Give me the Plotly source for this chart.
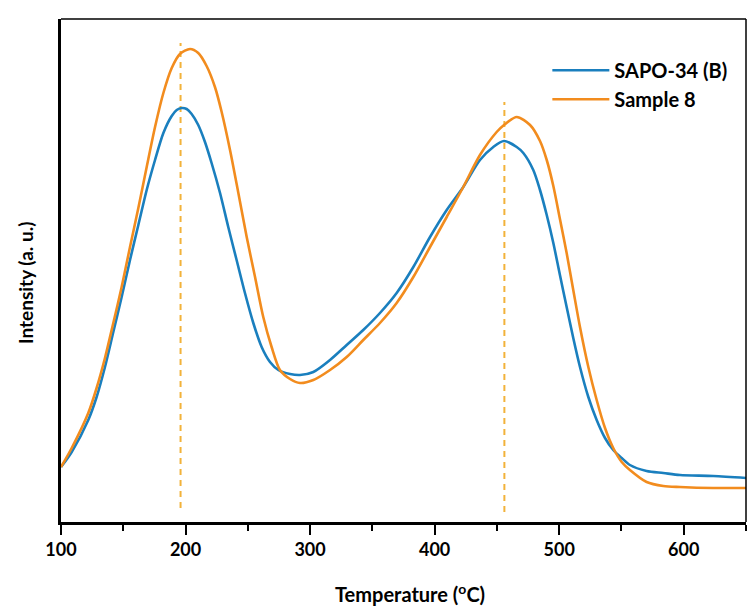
import plotly.graph_objects as go

# Temperature (°C) and intensity (a.u.)
temp_sapo = [100, 108.6, 121.9, 128.6, 135.3, 142.0, 148.7, 155.4, 162.1, 168.8,
             175.5, 182.2, 188.9, 192.9, 196.9, 200.9, 204.9, 210.2, 215.6, 220.9,
             227.7, 234.3, 241.0, 247.7, 254.4, 261.1, 267.8, 274.5, 283.9, 291.9,
             302.6, 316.0, 329.4, 342.7, 356.1, 369.5, 382.9, 396.3, 409.7, 423.0,
             436.4, 447.1, 455.7, 465.9, 471.2, 479.2, 484.6, 490.0, 495.3, 500.6,
             506.0, 511.3, 516.7, 523.4, 530.1, 536.8, 543.4, 550.2, 556.8, 570.2,
             583.6, 597.0, 623.7, 650.0]
int_sapo = [55, 70, 102, 125, 155, 190, 225, 262, 297, 332,
            362, 389, 406, 412, 414, 413, 408, 397, 380, 359,
            329, 295, 262, 229, 199, 175, 160, 152, 148, 147,
            150, 162, 177, 192, 209, 229, 255, 285, 312, 335,
            362, 375, 381, 375, 369, 352, 332, 307, 279, 247,
            215, 184, 155, 125, 102, 84, 72, 64, 57, 51,
            49, 47, 46, 44]

temp_s8 = [100, 108.6, 121.9, 128.6, 135.3, 142.0, 148.7, 155.4, 162.1, 168.8,
           175.5, 182.2, 188.9, 195.5, 203.6, 210.2, 216.9, 223.6, 229.0, 235.7,
           242.4, 249.1, 255.8, 262.4, 269.1, 275.8, 283.9, 291.9, 302.6, 316.0,
           329.4, 342.7, 356.1, 369.5, 382.9, 396.3, 409.7, 423.0, 436.4, 449.8,
           455.7, 465.9, 476.6, 484.6, 490.0, 495.3, 500.6, 506.0, 511.3, 516.7,
           523.4, 530.1, 536.8, 543.4, 550.2, 556.8, 570.2, 583.6, 597.0, 623.7,
           650.0]
int_s8 = [55, 74, 109, 134, 164, 199, 235, 275, 314, 355,
          395, 429, 454, 468, 473, 469, 456, 435, 410, 372,
          329, 285, 245, 205, 175, 152, 143, 139, 142, 152,
          165, 182, 199, 219, 245, 275, 305, 335, 367, 390,
          397, 405, 397, 381, 362, 336, 303, 269, 232, 195,
          155, 122, 94, 74, 60, 52, 40, 36, 35, 34,
          34]

peak_temps = [196, 456]
peak_tops = [479, 420]
peak_bottoms = [14, 10]

series_names = ["SAPO-34 (B)", "Sample 8"]
x_ticks = [100, 200, 300, 400, 500, 600]

BLUE = "#1A7FBE"
ORANGE = "#F28C1E"
DASH = "#F2B23A"
FONT = "Lato"

fig = go.Figure()

for t, top, bot in zip(peak_temps, peak_tops, peak_bottoms):
    fig.add_trace(go.Scatter(x=[t, t], y=[bot, top], mode="lines",
                             line=dict(color=DASH, width=2, dash="6px,5px"),
                             showlegend=False, hoverinfo="skip"))

fig.add_trace(go.Scatter(x=temp_sapo, y=int_sapo, mode="lines", name=series_names[0],
                         line=dict(color=BLUE, width=2.6, shape="spline", smoothing=0.8)))
fig.add_trace(go.Scatter(x=temp_s8, y=int_s8, mode="lines", name=series_names[1],
                         line=dict(color=ORANGE, width=2.6, shape="spline", smoothing=0.8)))

fig.update_layout(
    width=752, height=608,
    margin=dict(l=61, r=6, t=19, b=86, autoexpand=False),
    paper_bgcolor="white", plot_bgcolor="white",
    font=dict(family=FONT, size=17, color="black", weight="bold"),
    legend=dict(x=0.71, y=0.937, xanchor="left", yanchor="top", itemwidth=57,
                bgcolor="rgba(0,0,0,0)", font=dict(size=20, family=FONT, weight="bold"),
                tracegroupgap=0),
    xaxis=dict(range=[100, 650], tickvals=x_ticks, ticktext=[str(v) for v in x_ticks],
               automargin=False,
               showgrid=False, zeroline=False, showline=True, linecolor="black", linewidth=2.5,
               ticks="outside", ticklen=10, tickwidth=2, tickcolor="black",
               minor=dict(ticks="outside", ticklen=6, tickwidth=2, tickcolor="black",
                          tick0=100, dtick=50, showgrid=False),
               tickfont=dict(size=18, family=FONT, weight="bold")),
    yaxis=dict(range=[0, 503], showticklabels=False, ticks="", showgrid=False, zeroline=False,
               automargin=False,
               showline=True, linecolor="black", linewidth=2.5),
    shapes=[
        dict(type="line", xref="paper", yref="paper", x0=0, x1=1, y0=1, y1=1,
             line=dict(color="black", width=1.5)),
        dict(type="line", xref="paper", yref="paper", x0=1, x1=1, y0=0, y1=1,
             line=dict(color="black", width=1.5)),
    ],
    annotations=[
        dict(text="Temperature (<sup>o</sup>C)", xref="paper", yref="paper",
             x=(410 - 61) / 685, y=-71 / 503, xanchor="center", yanchor="middle",
             showarrow=False, font=dict(size=20, family=FONT, weight="bold")),
        dict(text="Intensity (a. u.)", xref="paper", yref="paper",
             x=-36 / 685, y=(522 - 283) / 503, xanchor="center", yanchor="middle",
             textangle=-90, showarrow=False,
             font=dict(size=19, family=FONT, weight="bold")),
    ],
)

fig.write_html("out.html", config={"displayModeBar": False},
               post_script="document.body.style.margin='0';document.body.style.overflow='hidden';")
